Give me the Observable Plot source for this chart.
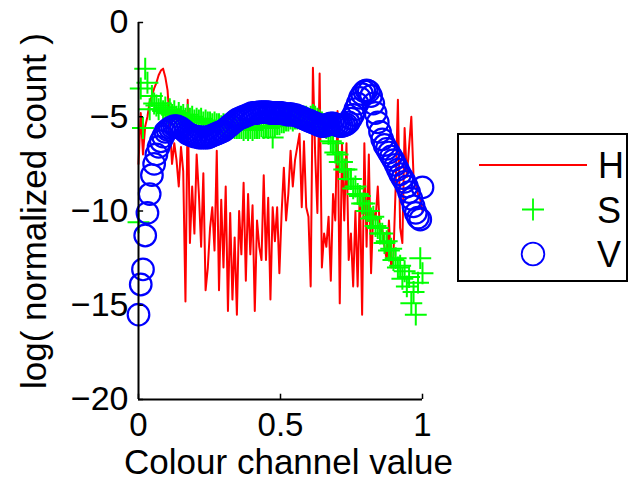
<!DOCTYPE html>
<html><head><meta charset="utf-8">
<script src="https://cdn.jsdelivr.net/npm/d3@7"></script>
<script src="https://cdn.jsdelivr.net/npm/@observablehq/plot@0.6"></script>
<style>
body{margin:0;background:#fff}
#wrap{position:relative;width:642px;height:493px;font-family:'Liberation Sans',Arial,sans-serif}
#legend{position:absolute;left:0;top:0}
</style>
</head><body><div id="wrap"></div>
<script>
// Hue histogram (log normalized count), 128 bins
const H = [
 -7.5,-4.8,-7.0,-5.5,-5.0,-4.2,-3.9,-3.5,-3.2,-2.8,-2.55,-2.45,-2.9,-3.6,-5.4,-7.5,
 -6.4,-7.3,-8.7,-6.6,-7.9,-14.8,-4.1,-11.7,-8.7,-11.2,-7.0,-9.1,-11.9,-8.0,-14.2,-13.0,
 -10.9,-9.8,-12.1,-6.8,-14.2,-9.4,-13.0,-8.7,-15.3,-10.1,-14.7,-11.4,-15.5,-10.0,-12.3,-8.5,
 -13.7,-9.1,-12.3,-9.7,-15.3,-10.5,-11.9,-12.6,-8.1,-12.6,-9.3,-14.7,-9.8,-11.6,-9.8,-13.3,
 -10.1,-7.7,-10.5,-9.1,-6.8,-8.7,-7.3,-6.6,-5.9,-9.8,-6.3,-9.8,-10.3,-14.0,-2.4,-7.0,
 -10.1,-2.7,-13.0,-11.2,-11.9,-10.3,-13.7,-9.1,-10.5,-4.7,-14.9,-6.4,-10.5,-6.4,-12.6,-11.2,
 -14.0,-10.0,-14.0,-8.7,-15.5,-6.4,-11.9,-7.0,-13.3,-10.0,-10.5,-8.7,-11.2,-10.9,-11.9,-12.6,
 -10.5,-13.0,-12.4,-8.7,-4.1,-10.9,-11.7,-5.6,-8.2,-6.6,-5.0,-8.2,-8.6,-9.1,-9.4,-10.0
];
// Saturation histogram
const S = [
 -10.6,-3.5,-5.6,-2.45,-3.2,-4.6,-3.9,-4.3,-4.4,-4.6,-4.3,-4.7,-4.5,-4.8,-4.6,-4.9,
 -4.7,-5.0,-4.8,-5.0,-4.9,-5.1,-4.9,-5.1,-5.0,-5.2,-5.1,-5.2,-5.1,-5.3,-5.2,-5.3,
 -5.3,-5.4,-5.3,-5.4,-5.4,-5.5,-5.4,-5.5,-5.5,-5.6,-5.5,-5.6,-5.6,-5.6,-5.6,-5.7,
 -5.6,-5.7,-5.6,-5.7,-5.6,-5.6,-5.6,-5.5,-5.6,-5.5,-5.6,-5.5,-6.1,-5.5,-5.4,-5.4,
 -5.3,-5.3,-5.2,-5.2,-5.1,-5.2,-5.1,-5.1,-5.0,-5.1,-5.0,-5.0,-5.1,-5.0,-4.9,-5.0,
 -5.1,-5.2,-5.3,-5.4,-5.6,-5.9,-6.3,-6.4,-6.9,-7.0,-7.4,-7.4,-7.8,-7.8,-8.3,-8.3,
 -8.8,-8.7,-9.1,-9.2,-9.6,-9.6,-10.0,-10.0,-10.4,-10.3,-10.8,-10.9,-11.2,-11.2,-11.7,-11.6,
 -12.1,-12.0,-12.6,-12.5,-13.0,-12.9,-13.6,-13.2,-14.0,-13.5,-14.9,-14.3,-15.5,-13.8,-12.5,-13.3
];
// Value histogram
const V = [
 -15.5,-13.9,-13.1,-11.3,-10.1,-9.1,-8.1,-7.5,-7.0,-6.6,-6.3,-6.05,-5.8,-5.7,-5.6,-5.55,
 -5.5,-5.5,-5.55,-5.6,-5.7,-5.8,-5.9,-5.95,-6.0,-6.05,-6.05,-6.1,-6.1,-6.1,-6.1,-6.1,
 -6.05,-6.0,-5.95,-5.9,-5.85,-5.8,-5.75,-5.65,-5.55,-5.45,-5.35,-5.25,-5.15,-5.1,-5.05,-5.0,
 -4.95,-4.9,-4.85,-4.8,-4.8,-4.8,-4.75,-4.75,-4.75,-4.75,-4.75,-4.8,-4.8,-4.8,-4.8,-4.8,
 -4.8,-4.85,-4.85,-4.9,-4.85,-4.9,-4.9,-4.95,-5.0,-5.05,-5.1,-5.15,-5.2,-5.25,-5.3,-5.35,
 -5.4,-5.45,-5.5,-5.5,-5.45,-5.4,-5.35,-5.35,-5.4,-5.45,-5.5,-5.5,-5.45,-5.4,-5.3,-5.1,
 -4.9,-4.6,-4.3,-4.0,-3.8,-3.65,-3.6,-3.65,-3.9,-4.3,-4.8,-5.3,-5.8,-6.2,-6.5,-6.7,
 -6.9,-7.1,-7.3,-7.55,-7.8,-8.05,-8.25,-8.45,-8.7,-9.0,-9.35,-9.75,-10.1,-10.35,-10.45,-8.75
];
const xTicks = [0, 0.5, 1];
const yTicks = [0, -5, -10, -15, -20];
const xLabel = "Colour channel value";
const yLabel = "log( normalized count )";
const seriesNames = ["H", "S", "V"];
const seriesColors = ["#ff0000", "#00ff00", "#0000ff"];

const bins = H.map((_, i) => i / (H.length - 1));
const rows = bins.map((x, i) => ({x, h: H[i], s: S[i], v: V[i]}));

const plot = Plot.plot({
  width: 642, height: 493,
  marginLeft: 138, marginRight: 220, marginTop: 22, marginBottom: 94,
  style: {fontFamily: "'Liberation Sans', Arial, sans-serif", fontSize: "34px", background: "white", color: "black", overflow: "visible"},
  x: {domain: [0, 1]},
  y: {domain: [-20, 0]},
  marks: [
    Plot.line(rows, {x: "x", y: "h", stroke: seriesColors[0], strokeWidth: 2}),
    Plot.dot(rows, {x: "x", y: "s", symbol: "plus", r: 7.1, fill: "none", stroke: seriesColors[1], strokeWidth: 2}),
    Plot.dot(rows, {x: "x", y: "v", symbol: "circle", r: 10.8, fill: "none", stroke: seriesColors[2], strokeWidth: 2.2}),
    Plot.ruleX([0], {y1: -20, y2: 0, stroke: "black", strokeWidth: 2}),
    Plot.ruleY([-20], {x1: 0, x2: 1, stroke: "black", strokeWidth: 2}),
    Plot.ruleY(yTicks, {x1: 0, x2: 0.018, stroke: "black", strokeWidth: 1.5}),
    Plot.ruleX(xTicks, {y1: -20, y2: -19.72, stroke: "black", strokeWidth: 1.5}),
    Plot.axisX({ticks: xTicks, tickSize: 0, tickPadding: 13, fontSize: 33, label: null, tickFormat: d => String(d)}),
    Plot.axisY({ticks: yTicks, tickSize: 0, tickPadding: 10, label: null}),
    Plot.text([xLabel], {frameAnchor: "bottom", textAnchor: "middle", lineAnchor: "middle", dx: 8, dy: 63, fontSize: 35}),
    Plot.text([yLabel], {frameAnchor: "left", textAnchor: "middle", lineAnchor: "middle", dx: -104, rotate: -90, fontSize: 35})
  ]
});
const wrap = document.getElementById("wrap");
wrap.appendChild(plot);

// Legend
const ns = "http://www.w3.org/2000/svg";
const lg = document.createElementNS(ns, "svg");
lg.setAttribute("id", "legend");
lg.setAttribute("width", 642);
lg.setAttribute("height", 493);
lg.innerHTML = `
<rect x="458" y="134" width="169" height="147" fill="white" stroke="black" stroke-width="2"/>
<line x1="479" y1="165" x2="587" y2="165" stroke="${seriesColors[0]}" stroke-width="2"/>
<path d="M522,209.5H544M533,198.5V220.5" stroke="${seriesColors[1]}" stroke-width="1.8" fill="none"/>
<circle cx="533" cy="254" r="11.3" fill="none" stroke="${seriesColors[2]}" stroke-width="1.8"/>
<g font-family="'Liberation Sans', Arial, sans-serif" font-size="36" fill="black">
<text x="598" y="178">${seriesNames[0]}</text>
<text x="597" y="223">${seriesNames[1]}</text>
<text x="597" y="267">${seriesNames[2]}</text>
</g>`;
wrap.appendChild(lg);
</script>
</body></html>
